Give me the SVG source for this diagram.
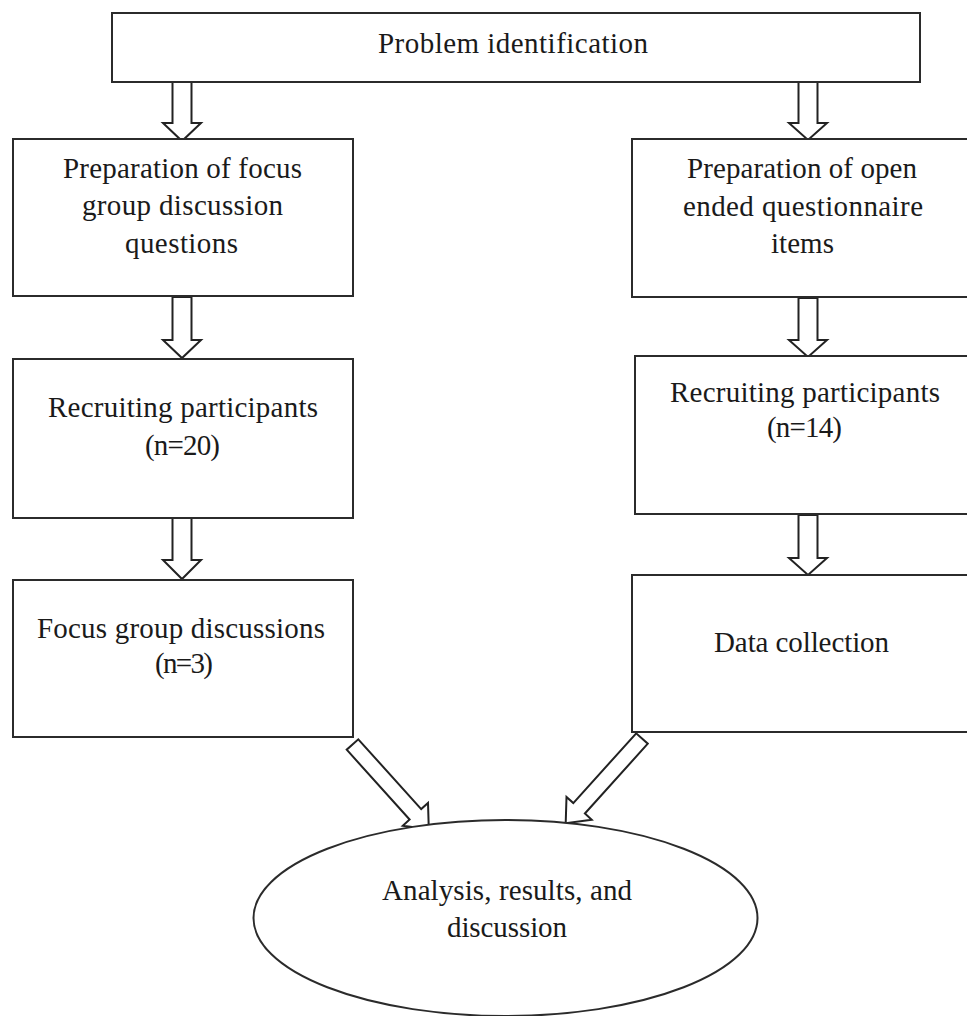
<svg xmlns="http://www.w3.org/2000/svg" width="967" height="1016" viewBox="0 0 967 1016">
<style>
.box{fill:#fff;stroke:#2b2b2b;stroke-width:2}
.arr{fill:#fff;stroke:#222;stroke-width:2;stroke-linejoin:miter}
.t{font-family:"Liberation Serif","Times New Roman",serif;font-size:29px;fill:#1a1a1a;text-anchor:middle}
</style>
<rect width="967" height="1016" fill="#fff"/>
<g id="connectors">
<polygon class="arr" points="172.5,82 191.5,82 191.5,123 201,123 182,141 163,123 172.5,123"/>
<polygon class="arr" points="172.5,297 191.5,297 191.5,340 201,340 182,358 163,340 172.5,340"/>
<polygon class="arr" points="172.5,518 191.5,518 191.5,560 201,560 182,579 163,560 172.5,560"/>
<polygon class="arr" points="798.5,82 817.5,82 817.5,123 827,123 808,140 789,123 798.5,123"/>
<polygon class="arr" points="798.5,298 817.5,298 817.5,340 827,340 808,357 789,340 798.5,340"/>
<polygon class="arr" points="798.5,515 817.5,515 817.5,558 827,558 808,575 789,558 798.5,558"/>
<polygon class="arr" points="358.3,739.3 421.2,809.1 428,802.9 428.8,829.2 402.8,825.7 409.6,819.5 346.7,749.7"/>
<polygon class="arr" points="636.2,733.3 573.3,803.1 566.5,796.9 565.7,823.2 591.7,819.7 584.9,813.5 647.8,743.7"/>
</g>
<g id="n-problem">
<rect class="box" x="112" y="13" width="808" height="69"/>
<text class="t" x="513" y="53" textLength="270" lengthAdjust="spacing">Problem identification</text>
</g>
<g id="n-fg-prep">
<rect class="box" x="13" y="139" width="340" height="157"/>
<text class="t" x="182.5" y="178" textLength="239" lengthAdjust="spacing">Preparation of focus</text>
<text class="t" x="182.5" y="215" textLength="201" lengthAdjust="spacing">group discussion</text>
<text class="t" x="181.5" y="253" textLength="113" lengthAdjust="spacing">questions</text>
</g>
<g id="n-fg-recruit">
<rect class="box" x="13" y="359" width="340" height="159"/>
<text class="t" x="183" y="417" textLength="270" lengthAdjust="spacing">Recruiting participants</text>
<text class="t" x="182.5" y="455" textLength="75" lengthAdjust="spacing">(n=20)</text>
</g>
<g id="n-fg-disc">
<rect class="box" x="13" y="580" width="340" height="157"/>
<text class="t" x="181" y="638" textLength="288" lengthAdjust="spacing">Focus group discussions</text>
<text class="t" x="184" y="673" textLength="58" lengthAdjust="spacing">(n=3)</text>
</g>
<g id="n-q-prep">
<rect class="box" x="632" y="139" width="345" height="158"/>
<text class="t" x="802" y="178" textLength="230" lengthAdjust="spacing">Preparation of open</text>
<text class="t" x="803" y="216" textLength="240" lengthAdjust="spacing">ended questionnaire</text>
<text class="t" x="802.5" y="253" textLength="63" lengthAdjust="spacing">items</text>
</g>
<g id="n-q-recruit">
<rect class="box" x="635" y="356" width="342" height="158"/>
<text class="t" x="805" y="402" textLength="270" lengthAdjust="spacing">Recruiting participants</text>
<text class="t" x="804.5" y="437" textLength="75" lengthAdjust="spacing">(n=14)</text>
</g>
<g id="n-q-data">
<rect class="box" x="632" y="575" width="345" height="157"/>
<text class="t" x="801.5" y="652" textLength="175" lengthAdjust="spacing">Data collection</text>
</g>
<g id="n-analysis">
<ellipse class="box" cx="505.5" cy="918" rx="252" ry="98"/>
<text class="t" x="507" y="900" textLength="250" lengthAdjust="spacing">Analysis, results, and</text>
<text class="t" x="507" y="937" textLength="120" lengthAdjust="spacing">discussion</text>
</g>
</svg>
